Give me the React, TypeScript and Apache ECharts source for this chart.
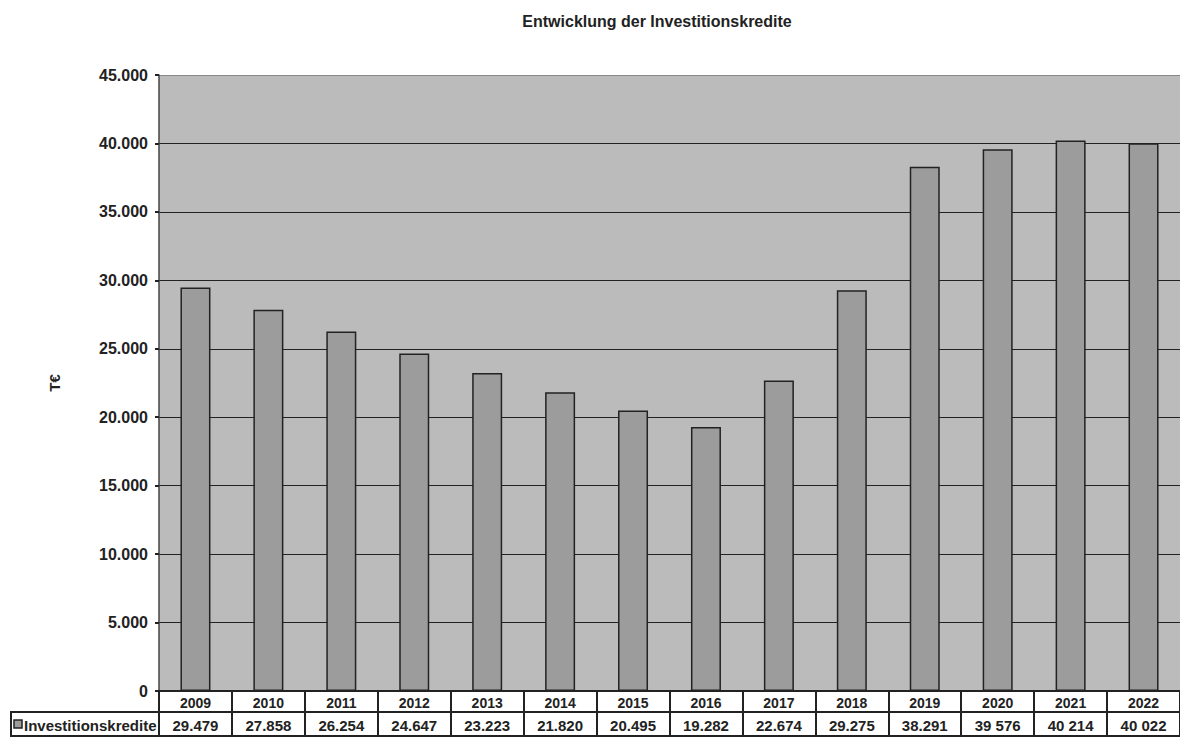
import React, { useEffect, useRef } from "react";
import * as echarts from "echarts";

const years = ["2009", "2010", "2011", "2012", "2013", "2014", "2015", "2016", "2017", "2018", "2019", "2020", "2021", "2022"];
const values = [29479, 27858, 26254, 24647, 23223, 21820, 20495, 19282, 22674, 29275, 38291, 39576, 40214, 40022];
const tableLabels = ["29.479", "27.858", "26.254", "24.647", "23.223", "21.820", "20.495", "19.282", "22.674", "29.275", "38.291", "39 576", "40 214", "40 022"];
const seriesName = "Investitionskredite";
const title = "Entwicklung der Investitionskredite";
const yName = "T€";

const FONT = "'Liberation Sans', Arial, sans-serif";

export default function App() {
  const ref = useRef<HTMLDivElement>(null);
  useEffect(() => {
    if (!ref.current) return;
    const chart = echarts.init(ref.current, null, { renderer: "svg" });
    const fmt = (v: number) => String(v).replace(/\B(?=(\d{3})+(?!\d))/g, ".");
    const gridColors = ["#222", "#222", "#222", "#222", "#222", "#222", "#222", "#222", "#222", "#888"];
    chart.setOption({
      animation: false,
      backgroundColor: "#fff",
      title: {
        text: title,
        left: 652,
        textAlign: "center",
        top: 8,
        textStyle: { fontFamily: FONT, fontSize: 16, fontWeight: "bold", color: "#222" },
      },
      grid: {
        left: 159,
        top: 75,
        width: 1039,
        bottom: 47,
        show: true,
        backgroundColor: "#BBBBBB",
        borderWidth: 0,
      },
      xAxis: [
        {
          type: "category",
          data: years,
          position: "bottom",
          axisLine: { show: true, lineStyle: { color: "#222", width: 2 } },
          axisTick: { show: true, length: 45, lineStyle: { color: "#222", width: 2 } },
          axisLabel: { margin: 5, fontFamily: FONT, fontSize: 14, fontWeight: "bold", color: "#222" },
          splitLine: { show: false },
        },
        {
          type: "category",
          data: tableLabels,
          position: "bottom",
          offset: 21,
          axisLine: { show: true, lineStyle: { color: "#222", width: 2 } },
          axisTick: { show: false },
          axisLabel: { margin: 6, fontFamily: FONT, fontSize: 15, fontWeight: "bold", color: "#222" },
          splitLine: { show: false },
        },
      ],
      yAxis: {
        type: "value",
        min: 0,
        max: 45000,
        interval: 5000,
        name: yName,
        nameLocation: "middle",
        nameGap: 97,
        nameTextStyle: { fontFamily: FONT, fontSize: 15, fontWeight: "bold", color: "#222" },
        axisLine: { show: true, lineStyle: { color: "#444", width: 1.5 } },
        axisTick: { show: true, length: 4, lineStyle: { color: "#222", width: 2 } },
        axisLabel: { margin: 11, formatter: fmt, fontFamily: FONT, fontSize: 16, fontWeight: "bold", color: "#222" },
        splitLine: { show: true, lineStyle: { color: gridColors, width: 1 } },
      },
      series: [
        {
          name: seriesName,
          type: "bar",
          data: values,
          xAxisIndex: 0,
          barWidth: 30,
          itemStyle: { color: "#9C9C9C", borderColor: "#222", borderWidth: 1.5 },
        },
      ],
      graphic: [
        {
          type: "rect",
          shape: { x: 11, y: 712, width: 1200, height: 24 },
          style: { fill: "none", stroke: "#222", lineWidth: 2 },
          z: 100,
        },
        {
          type: "rect",
          shape: { x: 14, y: 720, width: 8, height: 8 },
          style: { fill: "#9C9C9C", stroke: "#222", lineWidth: 1.5 },
          z: 100,
        },
        {
          type: "text",
          x: 24,
          y: 725,
          style: {
            text: seriesName,
            fontFamily: FONT,
            fontSize: 15,
            fontWeight: "bold",
            fill: "#222",
            textVerticalAlign: "middle",
            verticalAlign: "middle",
          },
          z: 100,
        },
      ],
    });
    return () => chart.dispose();
  }, []);
  return <div ref={ref} style={{ position: "fixed", left: 0, top: 0, width: 1180, height: 738 }} />;
}
